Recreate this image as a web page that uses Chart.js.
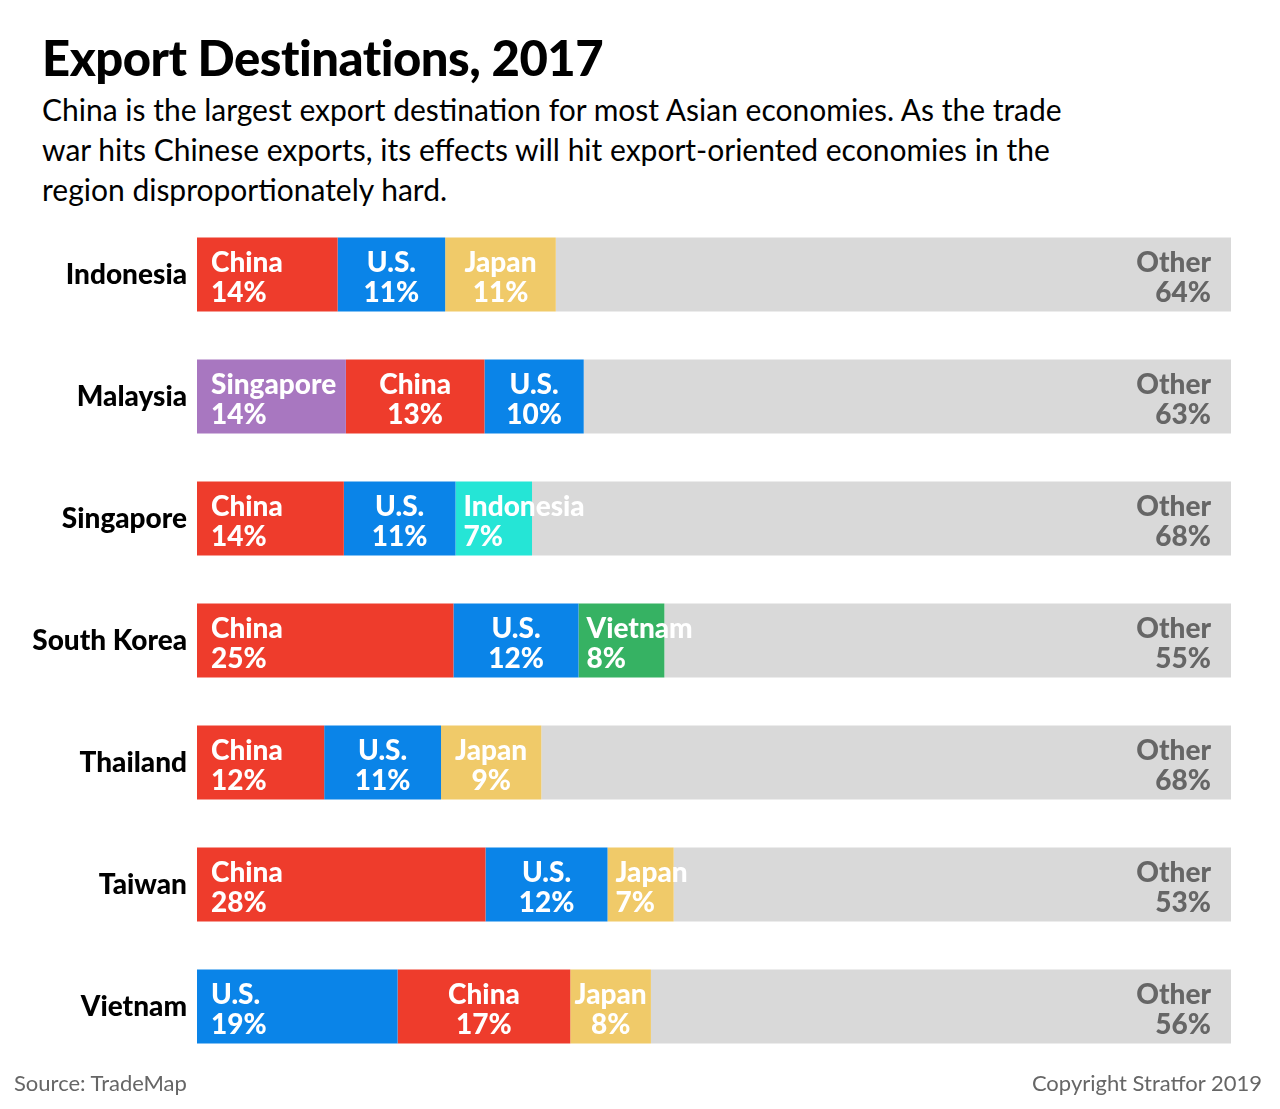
<!DOCTYPE html>
<html>
<head>
<meta charset="utf-8">
<script src="https://cdn.jsdelivr.net/npm/chart.js@4.4.0/dist/chart.umd.min.js"></script>
<style>
	body { margin: 0; background: #fff; font-family: Lato, "Open Sans", sans-serif; }
	.wrap { position: relative; width: 1280px; height: 1109px; }
	h1 { position: absolute; left: 42px; top: 28px; margin: 0; font-size: 49px; font-weight: 900; color: #000; letter-spacing: -0.5px; }
	.sub { position: absolute; left: 42px; top: 89px; width: 1045px; margin: 0; font-size: 30px; line-height: 40px; color: #000; }
	.chart-box { position: absolute; left: 0; top: 200px; width: 1280px; height: 880px; }
	.foot { position: absolute; top: 1069px; font-size: 22px; color: #666; }
</style>
</head>
<body>
<div class="wrap">
	<h1>Export Destinations, 2017</h1>
	<p class="sub">China is the largest export destination for most Asian economies. As the trade war hits Chinese exports, its effects will hit export-oriented economies in the region disproportionately hard.</p>
	<div class="chart-box"><canvas id="multiChart"></canvas></div>
	<div class="foot" style="left:14px">Source: TradeMap</div>
	<div class="foot" style="right:18px">Copyright Stratfor 2019</div>
</div>
<script>
const countries = ["Indonesia", "Malaysia", "Singapore", "South Korea", "Thailand", "Taiwan", "Vietnam"]

// partner in 1st, 2nd, 3rd place for each country
const partner1 = ["China", "Singapore", "China", "China", "China", "China", "U.S."]
const partner2 = ["U.S.", "China", "U.S.", "U.S.", "U.S.", "U.S.", "China"]
const partner3 = ["Japan", "U.S.", "Indonesia", "Vietnam", "Japan", "Japan", "Japan"]

// shares
const share1 = [13.6, 14.4, 14.2, 24.8, 12.3, 27.9, 19.4]
const share2 = [10.4, 13.4, 10.8, 12.1, 11.3, 11.8, 16.7]
const share3 = [10.7, 9.6, 7.4, 8.3, 9.7, 6.4, 7.8]

// printed labels
const label1 = ["14%", "14%", "14%", "25%", "12%", "28%", "19%"]
const label2 = ["11%", "13%", "11%", "12%", "11%", "12%", "17%"]
const label3 = ["11%", "10%", "7%", "8%", "9%", "7%", "8%"]
const labelOther = ["64%", "63%", "68%", "55%", "68%", "53%", "56%"]

const colors = {
	"China": "#ee3c2c",
	"U.S.": "#0a84e8",
	"Japan": "#f0ca69",
	"Singapore": "#a877c0",
	"Indonesia": "#25e5d6",
	"Vietnam": "#36b263",
	"Other": "#d9d9d9"
}

const shareOther = countries.map((c, i) => 100 - share1[i] - share2[i] - share3[i])

const font = "Lato, 'Open Sans', sans-serif"

const labelPlugin = {
	id: "segLabels",
	afterDatasetsDraw(chart) {
		const ctx = chart.ctx
		ctx.save()
		ctx.font = "900 28px " + font
		ctx.textBaseline = "middle"
		const names = [partner1, partner2, partner3]
		const pcts = [label1, label2, label3]
		for (let d = 0; d < 4; d++) {
			const meta = chart.getDatasetMeta(d)
			meta.data.forEach((bar, i) => {
				const left = Math.min(bar.x, bar.base)
				const right = Math.max(bar.x, bar.base)
				const y = bar.y
				let name, pct
				if (d == 3) {
					name = "Other"; pct = labelOther[i]
					ctx.fillStyle = "#666"
					ctx.textAlign = "right"
					ctx.fillText(name, right - 20, y - 12)
					ctx.fillText(pct, right - 20, y + 18)
					return
				}
				name = names[d][i]; pct = pcts[d][i]
				ctx.fillStyle = "#fff"
				const w = ctx.measureText(name).width
				if (d == 0) {
					ctx.textAlign = "left"
					ctx.fillText(name, left + 14, y - 12)
					ctx.fillText(pct, left + 14, y + 18)
				} else if (w > right - left - 8) {
					ctx.textAlign = "left"
					ctx.fillText(name, left + 8, y - 12)
					ctx.fillText(pct, left + 8, y + 18)
				} else {
					ctx.textAlign = "center"
					const cx = (left + right) / 2
					ctx.fillText(name, cx, y - 12)
					ctx.fillText(pct, cx, y + 18)
				}
			})
		}
		ctx.restore()
	}
}

const ctx = document.getElementById("multiChart").getContext("2d")
new Chart(ctx, {
	type: "bar",
	data: {
		labels: countries,
		datasets: [
			{ data: share1, backgroundColor: partner1.map(p => colors[p]) },
			{ data: share2, backgroundColor: partner2.map(p => colors[p]) },
			{ data: share3, backgroundColor: partner3.map(p => colors[p]) },
			{ data: shareOther, backgroundColor: colors["Other"] }
		]
	},
	plugins: [labelPlugin],
	options: {
		indexAxis: "y",
		responsive: true,
		maintainAspectRatio: false,
		animation: false,
		layout: { padding: { top: 13.5, bottom: 12.5, right: 49, left: 0 } },
		datasets: {
			bar: { categoryPercentage: 0.607, barPercentage: 1, borderWidth: 0 }
		},
		plugins: {
			legend: { display: false },
			tooltip: { enabled: false }
		},
		scales: {
			x: { stacked: true, min: 0, max: 100, display: false },
			y: {
				stacked: true,
				grid: { display: false, drawTicks: false },
				border: { display: false },
				ticks: {
					color: "#000",
					padding: 10,
					font: { family: font, size: 28, weight: "900" }
				},
				afterFit(scale) {
					scale.width = 197
					scale.paddingTop = 0
					scale.paddingBottom = 0
				}
			}
		}
	}
})
</script>
</body>
</html>
